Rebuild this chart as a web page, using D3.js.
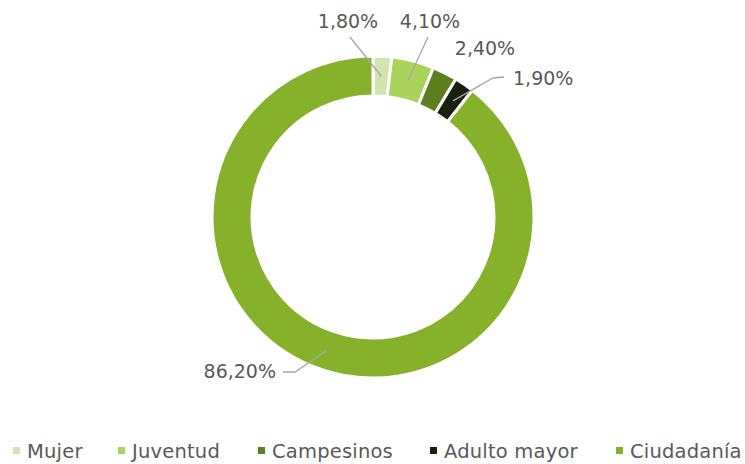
<!DOCTYPE html>
<html>
<head>
<meta charset="utf-8" />
<title>Distribución</title>
<script src="https://d3js.org/d3.v7.min.js"></script>
<style>
body { margin: 0; background: #fff; }
svg { display: block; }
text { font-family: "DejaVu Sans", sans-serif; fill: #595959; }
</style>
</head>
<body>
<div id="chart"></div>
<script>
var categories = ["Mujer", "Juventud", "Campesinos", "Adulto mayor", "Ciudadanía"];
var values = [1.8, 4.1, 2.4, 1.9, 86.2];
var labels = ["1,80%", "4,10%", "2,40%", "1,90%", "86,20%"];
var colors = ["#d3e4ae", "#aad35c", "#5c7f1f", "#17200e", "#86b22b"];

var width = 745, height = 464;
var cx = 373, cy = 217, outerR = 161, innerR = 121;

// where each label sits and how its leader bends
var labelLayout = [
    { x: 348, y: 28, anchor: "middle", leader: [[350, 37]] },
    { x: 430, y: 28, anchor: "middle", leader: [[428, 37]] },
    { x: 485, y: 55, anchor: "middle", leader: null },
    { x: 513, y: 85, anchor: "start", leader: [[504, 77], [493, 78]] },
    { x: 276, y: 378, anchor: "end", leader: [[283, 372], [295, 372]] }
];

var svg = d3.select("#chart").append("svg")
    .attr("width", width).attr("height", height);

var pie = d3.pie().sort(null).value(function(d) { return d; });
var arc = d3.arc().innerRadius(innerR).outerRadius(outerR);
var mid = d3.arc().innerRadius(141).outerRadius(141);

var g = svg.append("g").attr("transform", "translate(" + cx + "," + cy + ")");
var arcs = pie(values);

g.selectAll("path.slice")
    .data(arcs)
    .enter().append("path")
    .attr("class", "slice")
    .attr("d", arc)
    .attr("fill", function(d, i) { return colors[i]; })
    .attr("stroke", "#fff")
    .attr("stroke-width", 3);

// leader lines
var line = d3.line();
arcs.forEach(function(d, i) {
    var L = labelLayout[i];
    if (!L.leader) return;
    var c = mid.centroid(d);
    var pts = L.leader.map(function(p) { return [p[0] - cx, p[1] - cy]; });
    pts.push(c);
    g.append("path")
        .attr("d", line(pts))
        .attr("fill", "none")
        .attr("stroke", "#a6a6a6")
        .attr("stroke-width", 1.3);
});

svg.selectAll("text.lbl")
    .data(labels)
    .enter().append("text")
    .attr("class", "lbl")
    .attr("x", function(d, i) { return labelLayout[i].x; })
    .attr("y", function(d, i) { return labelLayout[i].y; })
    .attr("text-anchor", function(d, i) { return labelLayout[i].anchor; })
    .style("font-size", "19px")
    .text(function(d) { return d; });

// legend
var legendX = [13, 118, 258, 430, 616];
var leg = svg.selectAll("g.leg")
    .data(categories)
    .enter().append("g")
    .attr("class", "leg")
    .attr("transform", function(d, i) { return "translate(" + legendX[i] + ",458)"; });
leg.append("rect")
    .attr("x", 0).attr("y", -11)
    .attr("width", 7).attr("height", 7)
    .attr("fill", function(d, i) { return colors[i]; });
leg.append("text")
    .attr("x", 14).attr("y", 0)
    .style("font-size", "19.5px")
    .style("letter-spacing", "0.2px")
    .text(function(d) { return d; });
</script>
</body>
</html>
